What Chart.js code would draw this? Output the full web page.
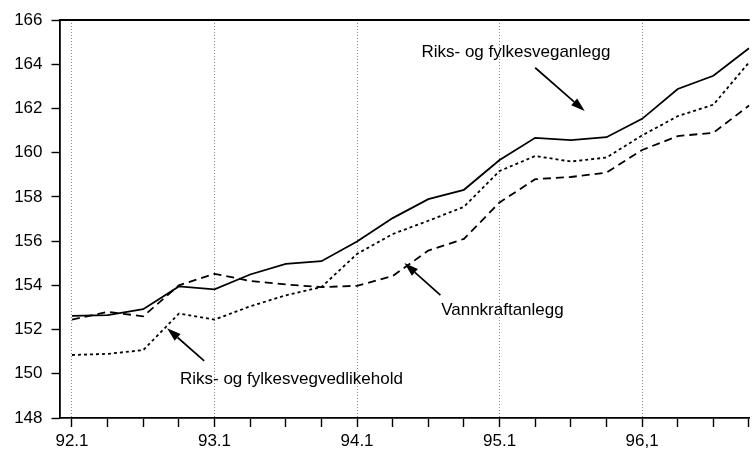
<!DOCTYPE html>
<html>
<head>
<meta charset="utf-8">
<script src="https://cdn.jsdelivr.net/npm/chart.js@4"></script>
<style>
html,body{margin:0;padding:0;background:#fff;}
#wrap{width:753px;height:455px;}
</style>
</head>
<body>
<div id="wrap"><canvas id="c" width="753" height="455"></canvas></div>
<script>
// ---- data ----
const quarters = ['92.1','92.2','92.3','92.4','93.1','93.2','93.3','93.4','94.1','94.2','94.3','94.4','95.1','95.2','95.3','95.4','96.1','96.2','96.3','96.4'];
const yearLabels = ['92.1','93.1','94.1','95.1','96,1'];
const yTicks = [148,150,152,154,156,158,160,162,164,166];
const anlegg      = [152.62,152.65,152.92,153.95,153.82,154.49,154.97,155.09,155.98,157.04,157.90,158.32,159.67,160.67,160.57,160.70,161.53,162.88,163.48,164.72];
const vedlikehold = [150.85,150.90,151.07,152.72,152.45,153.05,153.55,153.92,155.42,156.32,156.92,157.55,159.17,159.85,159.60,159.78,160.78,161.65,162.17,164.08];
const vannkraft   = [152.45,152.80,152.60,154.00,154.52,154.20,154.04,153.92,153.98,154.42,155.57,156.10,157.75,158.80,158.90,159.10,160.12,160.75,160.90,162.13];
const seriesNames = ['Riks- og fylkesveganlegg','Riks- og fylkesvegvedlikehold','Vannkraftanlegg'];

// annotation positions in data units (x = quarter index, y = value)
const notes = [
  {text: seriesNames[0], tx: 12.46, ty: 164.52, from: [13.00, 163.84], to: [14.39, 161.88]},
  {text: seriesNames[2], tx: 12.08, ty: 152.88, from: [10.34, 153.56], to: [9.33, 155.01]},
  {text: seriesNames[1], tx: 6.16,  ty: 149.76, from: [3.71, 150.58],  to: [2.67, 152.06]}
];

const FONT = 'Liberation Sans, Arial, Helvetica, sans-serif';

const pts = arr => arr.map((v, i) => ({x: i, y: v}));

const annotatePlugin = {
  id: 'annotate',
  afterDatasetsDraw(chart) {
    const {ctx, chartArea, scales: {x, y}} = chart;
    ctx.save();
    // top frame line
    ctx.strokeStyle = '#000';
    ctx.lineWidth = 1.8;
    ctx.beginPath();
    ctx.moveTo(chartArea.left, chartArea.top);
    ctx.lineTo(chartArea.right, chartArea.top);
    ctx.stroke();
    // notes
    ctx.fillStyle = '#000';
    ctx.font = '17px ' + FONT;
    ctx.textAlign = 'center';
    ctx.textBaseline = 'middle';
    notes.forEach(n => {
      ctx.fillText(n.text, x.getPixelForValue(n.tx), y.getPixelForValue(n.ty));
      const x1 = x.getPixelForValue(n.from[0]), y1 = y.getPixelForValue(n.from[1]);
      const x2 = x.getPixelForValue(n.to[0]),   y2 = y.getPixelForValue(n.to[1]);
      const ang = Math.atan2(y2 - y1, x2 - x1);
      const hl = 14, hw = 4.5;
      const bx = x2 - hl * Math.cos(ang), by = y2 - hl * Math.sin(ang);
      ctx.lineWidth = 1.7;
      ctx.beginPath();
      ctx.moveTo(x1, y1);
      ctx.lineTo(bx, by);
      ctx.stroke();
      ctx.beginPath();
      ctx.moveTo(x2, y2);
      ctx.lineTo(bx + hw * Math.sin(ang), by - hw * Math.cos(ang));
      ctx.lineTo(bx - hw * Math.sin(ang), by + hw * Math.cos(ang));
      ctx.closePath();
      ctx.fill();
    });
    ctx.restore();
  }
};

new Chart(document.getElementById('c'), {
  type: 'line',
  data: {
    datasets: [
      {label: seriesNames[0], data: pts(anlegg), borderColor: '#000', borderWidth: 1.8, pointRadius: 0, tension: 0},
      {label: seriesNames[1], data: pts(vedlikehold), borderColor: '#000', borderWidth: 1.8, borderDash: [3, 3], pointRadius: 0, tension: 0},
      {label: seriesNames[2], data: pts(vannkraft), borderColor: '#000', borderWidth: 1.8, borderDash: [8, 5], pointRadius: 0, tension: 0}
    ]
  },
  options: {
    animation: false,
    responsive: false,
    devicePixelRatio: 1,
    layout: {padding: {top: 20, right: 2, left: 0, bottom: 0}},
    plugins: {legend: {display: false}, tooltip: {enabled: false}},
    scales: {
      x: {
        type: 'linear',
        min: -0.35,
        max: 19.02,
        afterBuildTicks: s => { s.ticks = quarters.map((q, i) => ({value: i})); },
        afterFit: s => { s.height = 37; },
        ticks: {
          autoSkip: false, maxRotation: 0, padding: 4, color: '#000',
          font: {family: FONT, size: 17},
          callback: v => (v % 4 === 0 ? yearLabels[v / 4] : '')
        },
        grid: {
          color: ctx => (ctx.tick && ctx.tick.value % 4 === 0) ? '#8a8a8a' : 'rgba(0,0,0,0)',
          lineWidth: 1,
          tickColor: '#000',
          tickLength: 9,
          tickWidth: 1.4
        },
        border: {color: '#000', width: 1.8, dash: [1, 2]}
      },
      y: {
        min: 148,
        max: 166,
        afterBuildTicks: s => { s.ticks = yTicks.map(v => ({value: v})); },
        afterFit: s => { s.width = 59.5; },
        ticks: {padding: 9, color: '#000', font: {family: FONT, size: 17}},
        grid: {drawOnChartArea: false, tickLength: 8, tickColor: '#000', tickWidth: 1.4},
        border: {color: '#000', width: 1.8}
      }
    }
  },
  plugins: [annotatePlugin]
});
</script>
</body>
</html>
